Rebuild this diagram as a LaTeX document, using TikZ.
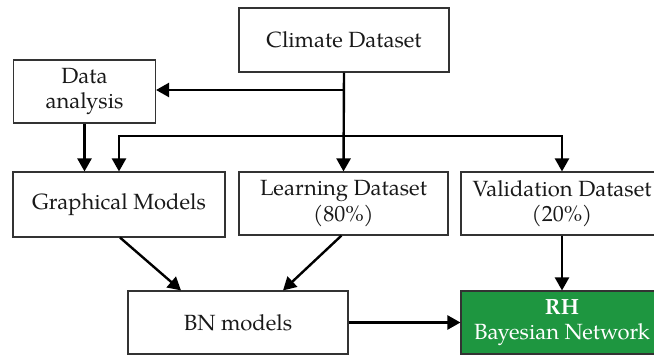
\documentclass[tikz,border=0pt]{standalone}
\usepackage{fontspec}
\setmainfont{TeX Gyre Pagella}
\usetikzlibrary{calc,arrows.meta}
\definecolor{rhgreen}{RGB}{30,150,64}
\definecolor{txt}{RGB}{25,25,25}
\tikzset{
  box/.style={draw=black!80, line width=1.1pt, rectangle, align=center, inner sep=0pt,
    font=\fontsize{22}{25.5}\selectfont, text=txt},
  arr/.style={line width=2.4pt, -{Triangle[length=13pt,width=14pt]}},
  ln/.style={line width=2.4pt}
}
\begin{document}
\begin{tikzpicture}[x=1pt,y=-1pt]
\useasboundingbox (0,0) rectangle (654,355);
\clip (0,0) rectangle (654,355);
\node[box, minimum width=210pt, minimum height=64pt] (climate) at (344,40) {Climate Dataset};
\node[box, minimum width=142pt, minimum height=63pt] (data) at (84.5,91.5) {Data\\analysis};
\node[box, minimum width=212pt, minimum height=65pt] (graph) at (119,204.5) {Graphical Models};
\node[box, minimum width=209pt, minimum height=63pt] (learn) at (343.5,203.5) {Learning Dataset\\(80\%)};
\node[box, minimum width=202pt, minimum height=63pt] (valid) at (562,203.5) {Validation Dataset\\(20\%)};
\node[box, minimum width=220pt, minimum height=63pt] (bn) at (238,322.5) {BN models};
\node[box, fill=rhgreen, text=white, minimum width=202pt, minimum height=63pt] (rh) at (562,322.5) {\textbf{RH}\\Bayesian Network};
\coordinate (j1) at (344,90);
\coordinate (j2) at (344,136);
\draw[arr] (climate.south) -- (learn.north);
\draw[arr] (j1) -- (j1 -| data.east);
\draw[arr] (j2) -| (graph.north);
\draw[arr] (j2) -| (valid.north);
\draw[arr] (data.south) -- (data.south |- graph.north);
\draw[arr] ($(graph.south)+(1,0)$) -- ($(bn.north)+(-57,0)$);
\draw[arr] ($(learn.south)+(-2,0)$) -- ($(bn.north)+(45,0)$);
\draw[arr] (valid.south) -- (rh.north);
\draw[arr] (bn.east) -- (rh.west);
\end{tikzpicture}
\end{document}
